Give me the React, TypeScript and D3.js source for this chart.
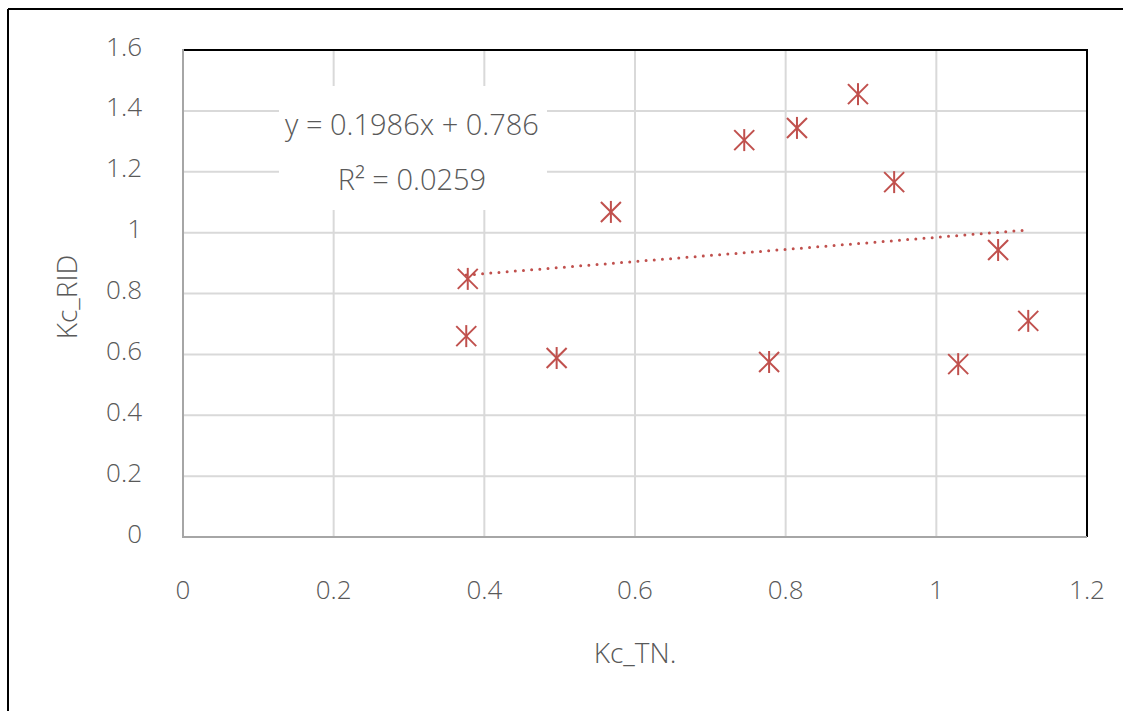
import React from "react";
import * as d3 from "d3";

const xValues = [0.378, 0.376, 0.496, 0.568, 0.745, 0.778, 0.815, 0.896, 0.944, 1.029, 1.082, 1.122];
const yValues = [0.848, 0.66, 0.588, 1.068, 1.304, 0.575, 1.344, 1.455, 1.166, 0.568, 0.943, 0.71];
const xTicks = [0, 0.2, 0.4, 0.6, 0.8, 1, 1.2];
const yTicks = [0, 0.2, 0.4, 0.6, 0.8, 1, 1.2, 1.4, 1.6];
const trendSlope = 0.1986;
const trendIntercept = 0.786;
const equationLabel = "y = 0.1986x + 0.786";
const r2Label = "R² = 0.0259";
const xTitle = "Kc_TN.";
const yTitle = "Kc_RID";

const W = 1123;
const H = 711;
const left = 183;
const right = 1087;
const top = 50;
const bottom = 537;
const RED = "#C0504D";
const FONT = "'Open Sans', 'Noto Sans', sans-serif";
const TXT = "#595959";

export default function App() {
  const x = d3.scaleLinear().domain([0, 1.2]).range([left, right]);
  const y = d3.scaleLinear().domain([0, 1.6]).range([bottom, top]);
  const xmin = d3.min(xValues) as number;
  const xmax = d3.max(xValues) as number;
  const trend = d3
    .line<number>()
    .x((d) => x(d))
    .y((d) => y(trendSlope * d + trendIntercept))([xmin, xmax]);
  const pts = xValues.map((v, i) => [x(v), y(yValues[i])]);
  const h = 10;
  return (
    <svg
      width={W}
      height={H}
      style={{ position: "absolute", left: 0, top: 0, display: "block", background: "#fff" }}
    >
      <rect x={0} y={0} width={W} height={H} fill="#fff" />
      {/* outer frame */}
      <line x1={8} y1={9} x2={W + 5} y2={9} stroke="#000" strokeWidth={2} />
      <line x1={8} y1={9} x2={8} y2={H + 5} stroke="#000" strokeWidth={2} />
      {/* gridlines */}
      {yTicks.slice(1, -1).map((t) => (
        <line key={"gy" + t} x1={left} x2={right} y1={y(t)} y2={y(t)} stroke="#d9d9d9" strokeWidth={2} />
      ))}
      {xTicks.slice(1, -1).map((t) => (
        <line key={"gx" + t} x1={x(t)} x2={x(t)} y1={top} y2={bottom} stroke="#d9d9d9" strokeWidth={2} />
      ))}
      {/* label box */}
      <rect x={279} y={86} width={268} height={124} fill="#fff" />
      {/* axes / border */}
      <line x1={left} x2={right} y1={top} y2={top} stroke="#000" strokeWidth={2} />
      <line x1={right} x2={right} y1={top - 1} y2={bottom} stroke="#000" strokeWidth={2} />
      <line x1={left} x2={left} y1={top - 1} y2={bottom + 1} stroke="#a6a6a6" strokeWidth={2} />
      <line x1={left} x2={right} y1={bottom} y2={bottom} stroke="#a6a6a6" strokeWidth={2} />
      {/* trendline */}
      <path
        d={trend || ""}
        fill="none"
        stroke={RED}
        strokeWidth={3}
        strokeLinecap="round"
        strokeDasharray="0 8.2"
      />
      {/* markers */}
      {pts.map(([px, py], i) => (
        <g key={"m" + i} stroke={RED} strokeWidth={2} fill="none">
          <line x1={px} y1={py - h - 1} x2={px} y2={py + h + 1} />
          <line x1={px - h} y1={py - h} x2={px + h} y2={py + h} />
          <line x1={px - h} y1={py + h} x2={px + h} y2={py - h} />
        </g>
      ))}
      {/* tick labels */}
      {yTicks.map((t) => (
        <text
          key={"ty" + t}
          x={142}
          y={y(t) + 5.5}
          textAnchor="end"
          fontFamily={FONT}
          fontWeight={300}
          fontSize={26}
          fill={TXT}
        >
          {d3.format("~g")(t)}
        </text>
      ))}
      {xTicks.map((t) => (
        <text
          key={"tx" + t}
          x={x(t)}
          y={599}
          textAnchor="middle"
          fontFamily={FONT}
          fontWeight={300}
          fontSize={26}
          fill={TXT}
        >
          {d3.format("~g")(t)}
        </text>
      ))}
      {/* equation */}
      <text x={412} y={135} textAnchor="middle" fontFamily={FONT} fontWeight={300} fontSize={29} fill={TXT}>
        {equationLabel}
      </text>
      <text x={412} y={190} textAnchor="middle" fontFamily={FONT} fontWeight={300} fontSize={29} fill={TXT}>
        {r2Label}
      </text>
      {/* axis titles */}
      <text x={635} y={663} textAnchor="middle" fontFamily={FONT} fontWeight={300} fontSize={28} fill={TXT}>
        {xTitle}
      </text>
      <text
        transform="translate(77,297) rotate(-90)"
        textAnchor="middle"
        fontFamily={FONT}
        fontWeight={300}
        fontSize={28}
        fill={TXT}
      >
        {yTitle}
      </text>
    </svg>
  );
}
